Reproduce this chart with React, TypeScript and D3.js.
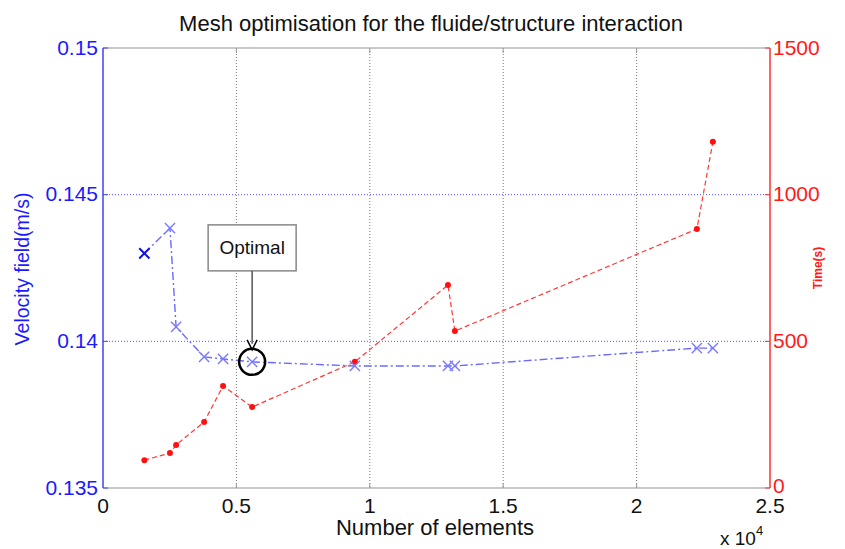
import React, { useEffect, useRef } from 'react';
import * as d3 from 'd3';

// Number of elements (x 10^4)
const elements = [0.155, 0.251, 0.274, 0.379, 0.45, 0.559, 0.944, 1.293, 1.319, 2.226, 2.286];
// Velocity field (m/s)
const velocity = [0.1430, 0.14386, 0.14049, 0.13947, 0.1394, 0.1393, 0.13916, 0.13916, 0.13916, 0.13977, 0.13977];
// Computation time (s)
const timeSec = [95, 119, 147, 225, 348, 276, 430, 692, 535, 883, 1180];

const xTicks = [0, 0.5, 1, 1.5, 2, 2.5];
const vTicks = [0.135, 0.14, 0.145, 0.15];
const tTicks = [0, 500, 1000, 1500];
const optimalIndex = 5;

const FONT = 'Liberation Sans, Arial, sans-serif';

const App: React.FC = () => {
  const svgRef = useRef<SVGSVGElement>(null);

  useEffect(() => {
    if (!svgRef.current) return;
    const width = 845;
    const height = 549;
    const left = 103, right = 770, top = 48, bottom = 488;

    const svg = d3.select(svgRef.current);
    svg.selectAll('*').remove();
    svg.attr('width', width).attr('height', height);

    svg.append('rect').attr('width', width).attr('height', height).attr('fill', '#fff');

    const x = d3.scaleLinear().domain([0, 2.5]).range([left, right]);
    const yV = d3.scaleLinear().domain([0.135, 0.15]).range([bottom, top]);
    const yT = d3.scaleLinear().domain([0, 1500]).range([bottom, top]);

    // vertical grid (gray dotted)
    svg.append('g').selectAll('line')
      .data(xTicks.slice(1, -1))
      .join('line')
      .attr('x1', d => x(d)).attr('x2', d => x(d))
      .attr('y1', top).attr('y2', bottom)
      .attr('stroke', '#777').attr('stroke-width', 1)
      .attr('stroke-dasharray', '1,2');

    // horizontal grid (blue dotted, left axis)
    svg.append('g').selectAll('line')
      .data(vTicks.slice(1, -1))
      .join('line')
      .attr('x1', left).attr('x2', right)
      .attr('y1', d => yV(d)).attr('y2', d => yV(d))
      .attr('stroke', '#5555ff').attr('stroke-width', 1)
      .attr('stroke-dasharray', '1,2');

    // box top / bottom
    [top, bottom].forEach((yy, i) => {
      svg.append('line')
        .attr('x1', left).attr('x2', right).attr('y1', yy).attr('y2', yy)
        .attr('stroke', '#c8c8c8').attr('stroke-width', 2);
      svg.append('g').selectAll('line')
        .data(xTicks.slice(1, -1))
        .join('line')
        .attr('x1', d => x(d)).attr('x2', d => x(d))
        .attr('y1', yy).attr('y2', i === 0 ? yy + 5 : yy - 5)
        .attr('stroke', '#999').attr('stroke-width', 1);
    });

    // left axis
    svg.append('line')
      .attr('x1', left).attr('x2', left).attr('y1', top).attr('y2', bottom)
      .attr('stroke', '#4040ff').attr('stroke-width', 1.5);
    svg.append('g').selectAll('line')
      .data(vTicks)
      .join('line')
      .attr('x1', left).attr('x2', left + 5)
      .attr('y1', d => yV(d)).attr('y2', d => yV(d))
      .attr('stroke', '#4040ff');
    svg.append('g').selectAll('text')
      .data(vTicks)
      .join('text')
      .attr('x', left - 5).attr('y', d => yV(d) + 1)
      .attr('text-anchor', 'end').attr('dominant-baseline', 'middle')
      .attr('font-family', FONT).attr('font-size', 21)
      .attr('fill', '#1a1aff')
      .text(d => d3.format('.3~f')(d));

    // right axis
    svg.append('line')
      .attr('x1', right).attr('x2', right).attr('y1', top).attr('y2', bottom)
      .attr('stroke', '#ff3030').attr('stroke-width', 1.5);
    svg.append('g').selectAll('line')
      .data(tTicks)
      .join('line')
      .attr('x1', right).attr('x2', right - 5)
      .attr('y1', d => yT(d)).attr('y2', d => yT(d))
      .attr('stroke', '#ff3030');
    svg.append('g').selectAll('text')
      .data(tTicks)
      .join('text')
      .attr('x', right + 3).attr('y', d => (d === 0 ? yT(d) - 1 : yT(d) + 1))
      .attr('text-anchor', 'start').attr('dominant-baseline', 'middle')
      .attr('font-family', FONT).attr('font-size', 21)
      .attr('fill', '#ff1a1a')
      .text(d => String(d));

    // bottom tick labels
    svg.append('g').selectAll('text')
      .data(xTicks)
      .join('text')
      .attr('x', d => x(d)).attr('y', bottom + 25)
      .attr('text-anchor', 'middle')
      .attr('font-family', FONT).attr('font-size', 21)
      .attr('fill', '#111')
      .text(d => String(d));

    // axis titles
    svg.append('text')
      .attr('x', 435).attr('y', 535)
      .attr('text-anchor', 'middle')
      .attr('font-family', FONT).attr('font-size', 22).attr('fill', '#111')
      .text('Number of elements');

    const mult = svg.append('text')
      .attr('x', 720).attr('y', 545)
      .attr('font-family', FONT).attr('font-size', 19).attr('fill', '#111');
    mult.append('tspan').text('x 10');
    mult.append('tspan').attr('dy', -10).attr('font-size', 13).text('4');

    svg.append('text')
      .attr('transform', `translate(29,${(top + bottom) / 2 + 1}) rotate(-90)`)
      .attr('text-anchor', 'middle')
      .attr('font-family', FONT).attr('font-size', 19.5).attr('fill', '#1a1aff')
      .text('Velocity field(m/s)');

    svg.append('text')
      .attr('transform', `translate(822,${(top + bottom) / 2}) rotate(-90)`)
      .attr('text-anchor', 'middle')
      .attr('font-family', FONT).attr('font-size', 12).attr('font-weight', 'bold')
      .attr('fill', '#ff1a1a')
      .text('Time(s)');

    svg.append('text')
      .attr('x', 431).attr('y', 31)
      .attr('text-anchor', 'middle')
      .attr('font-family', FONT).attr('font-size', 22).attr('fill', '#111')
      .text('Mesh optimisation for the fluide/structure interaction');

    // time series (red dashed)
    const tLine = d3.line<number>()
      .x((_, i) => x(elements[i]))
      .y(d => yT(d));
    svg.append('path')
      .attr('d', tLine(timeSec))
      .attr('fill', 'none').attr('stroke', '#ff3838').attr('stroke-width', 1.2)
      .attr('stroke-dasharray', '5,3');
    svg.append('g').selectAll('circle')
      .data(timeSec)
      .join('circle')
      .attr('cx', (_, i) => x(elements[i])).attr('cy', d => yT(d))
      .attr('r', 3).attr('fill', '#ff1010');

    // velocity series (blue dash-dot)
    const vLine = d3.line<number>()
      .x((_, i) => x(elements[i]))
      .y(d => yV(d));
    svg.append('path')
      .attr('d', vLine(velocity))
      .attr('fill', 'none').attr('stroke', '#6a6aff').attr('stroke-width', 1.4)
      .attr('stroke-dasharray', '8,3,2,3');
    const cross = d3.symbol().type(d3.symbolX).size(70);
    svg.append('g').selectAll('path')
      .data(velocity)
      .join('path')
      .attr('transform', (d, i) => `translate(${x(elements[i])},${yV(d)})`)
      .attr('d', cross())
      .attr('fill', 'none')
      .attr('stroke', (_, i) => (i === 0 ? '#1010e0' : '#7a7aff'))
      .attr('stroke-width', (_, i) => (i === 0 ? 2 : 1.4));

    // annotation
    const ox = x(elements[optimalIndex]);
    const oy = yV(velocity[optimalIndex]);
    svg.append('circle')
      .attr('cx', ox).attr('cy', oy).attr('r', 13)
      .attr('fill', 'none').attr('stroke', '#000').attr('stroke-width', 2.5);
    const boxW = 88, boxH = 46;
    svg.append('rect')
      .attr('x', ox - 44).attr('y', oy - 137)
      .attr('width', boxW).attr('height', boxH)
      .attr('fill', '#fff').attr('stroke', '#888').attr('stroke-width', 1.5);
    svg.append('text')
      .attr('x', ox).attr('y', oy - 137 + boxH / 2 + 6)
      .attr('text-anchor', 'middle')
      .attr('font-family', FONT).attr('font-size', 19).attr('fill', '#111')
      .text('Optimal');
    svg.append('line')
      .attr('x1', ox).attr('x2', ox)
      .attr('y1', oy - 137 + boxH).attr('y2', oy - 18)
      .attr('stroke', '#555').attr('stroke-width', 1.5);
    svg.append('path')
      .attr('d', `M${ox - 5},${oy - 22} L${ox},${oy - 12} L${ox + 5},${oy - 22}`)
      .attr('fill', 'none').attr('stroke', '#000').attr('stroke-width', 1.5);
  }, []);

  return (
    <div style={{ position: 'absolute', left: 0, top: 0 }}>
      <svg ref={svgRef} style={{ display: 'block' }}></svg>
    </div>
  );
};

export default App;
